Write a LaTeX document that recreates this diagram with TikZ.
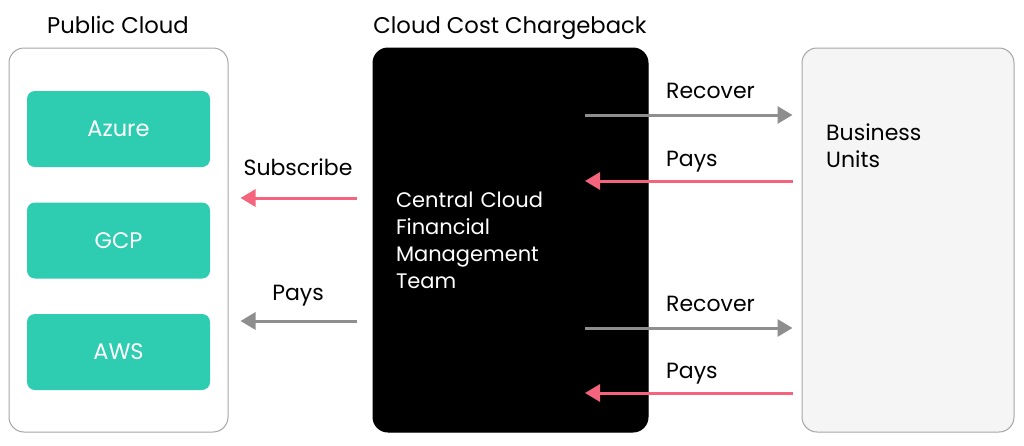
\documentclass[tikz,border=0pt]{standalone}
\usepackage{fontspec}
\setmainfont{Poppins}
\usetikzlibrary{arrows.meta,positioning}
\definecolor{cloudgreen}{HTML}{2ECCB0}
\definecolor{flowgray}{HTML}{8E8E8E}
\definecolor{flowpink}{HTML}{F4647D}
\definecolor{unitbg}{HTML}{F5F5F5}
\tikzstyle{panel} = [draw=gray!70,line width=1pt,rounded corners=15pt,minimum height=384pt,inner sep=0]
\tikzstyle{vendor} = [fill=cloudgreen,rounded corners=8pt,text=white,minimum width=183pt,minimum height=76pt,inner sep=0,font=\fontsize{22.5}{27}\selectfont]
\tikzstyle{lbl} = [inner sep=0,font=\fontsize{22}{27}\selectfont]
\tikzstyle{heading} = [inner sep=0,anchor=base,font=\fontsize{22.7}{27}\selectfont]
\tikzstyle{flowg} = [-{Triangle[length=15pt,width=17pt]},line width=3pt,flowgray]
\tikzstyle{flowp} = [-{Triangle[length=15pt,width=17pt]},line width=3pt,flowpink]

\begin{document}
\begin{tikzpicture}[x=1pt,y=-1pt]
  \useasboundingbox (0,0) rectangle (1024,445);
  % public cloud
  \node[panel,fill=white,minimum width=219pt] (cloud) at (118.5,240) {};
  \node[heading] (cloudtitle) at (118,33) {Public Cloud};
  \node[vendor] (azure) at (118.5,129) {Azure};
  \node[vendor] (gcp) at (118.5,240.5) {GCP};
  \node[vendor] (aws) at (118.5,352) {AWS};
  % chargeback team
  \node[panel,fill=black,draw=black,minimum width=275pt,text width=229pt,inner xsep=23pt,
        align=left,text=white,font=\fontsize{21}{27}\selectfont] (team) at (510.5,240)
        {Central Cloud\\Financial\\Management\\Team};
  \node[heading] (teamtitle) at (510,33) {Cloud Cost Chargeback};
  % business units
  \node[panel,fill=unitbg,minimum width=212pt] (units) at (908,240) {};
  \node[lbl,anchor=north west,align=left] (unitstxt) at (826,124) {Business\\Units};
  % flows
  \coordinate (subs) at (357,198);
  \coordinate (paid) at (357,321);
  \coordinate (rec1) at (585,115);
  \coordinate (pay1) at (585,181);
  \coordinate (rec2) at (585,328);
  \coordinate (pay2) at (585,393);
  \draw[flowp,shorten >=12pt] (subs) -- (subs -| cloud.east);
  \draw[flowg,shorten >=12pt] (paid) -- (paid -| cloud.east);
  \draw[flowg,shorten >=9pt] (rec1) -- (rec1 -| units.west);
  \draw[flowp,shorten <=9pt] (pay1 -| units.west) -- (pay1);
  \draw[flowg,shorten >=9pt] (rec2) -- (rec2 -| units.west);
  \draw[flowp,shorten <=9pt] (pay2 -| units.west) -- (pay2);
  % labels
  \node[lbl,anchor=base] (subslbl) at (298,175) {Subscribe};
  \node[lbl,anchor=base] (paidlbl) at (298,300) {Pays};
  \node[lbl,anchor=base west] (rec1lbl) at (666,98) {Recover};
  \node[lbl,anchor=base west] (pay1lbl) at (666,166) {Pays};
  \node[lbl,anchor=base west] (rec2lbl) at (666,311) {Recover};
  \node[lbl,anchor=base west] (pay2lbl) at (666,378) {Pays};
\end{tikzpicture}
\end{document}
